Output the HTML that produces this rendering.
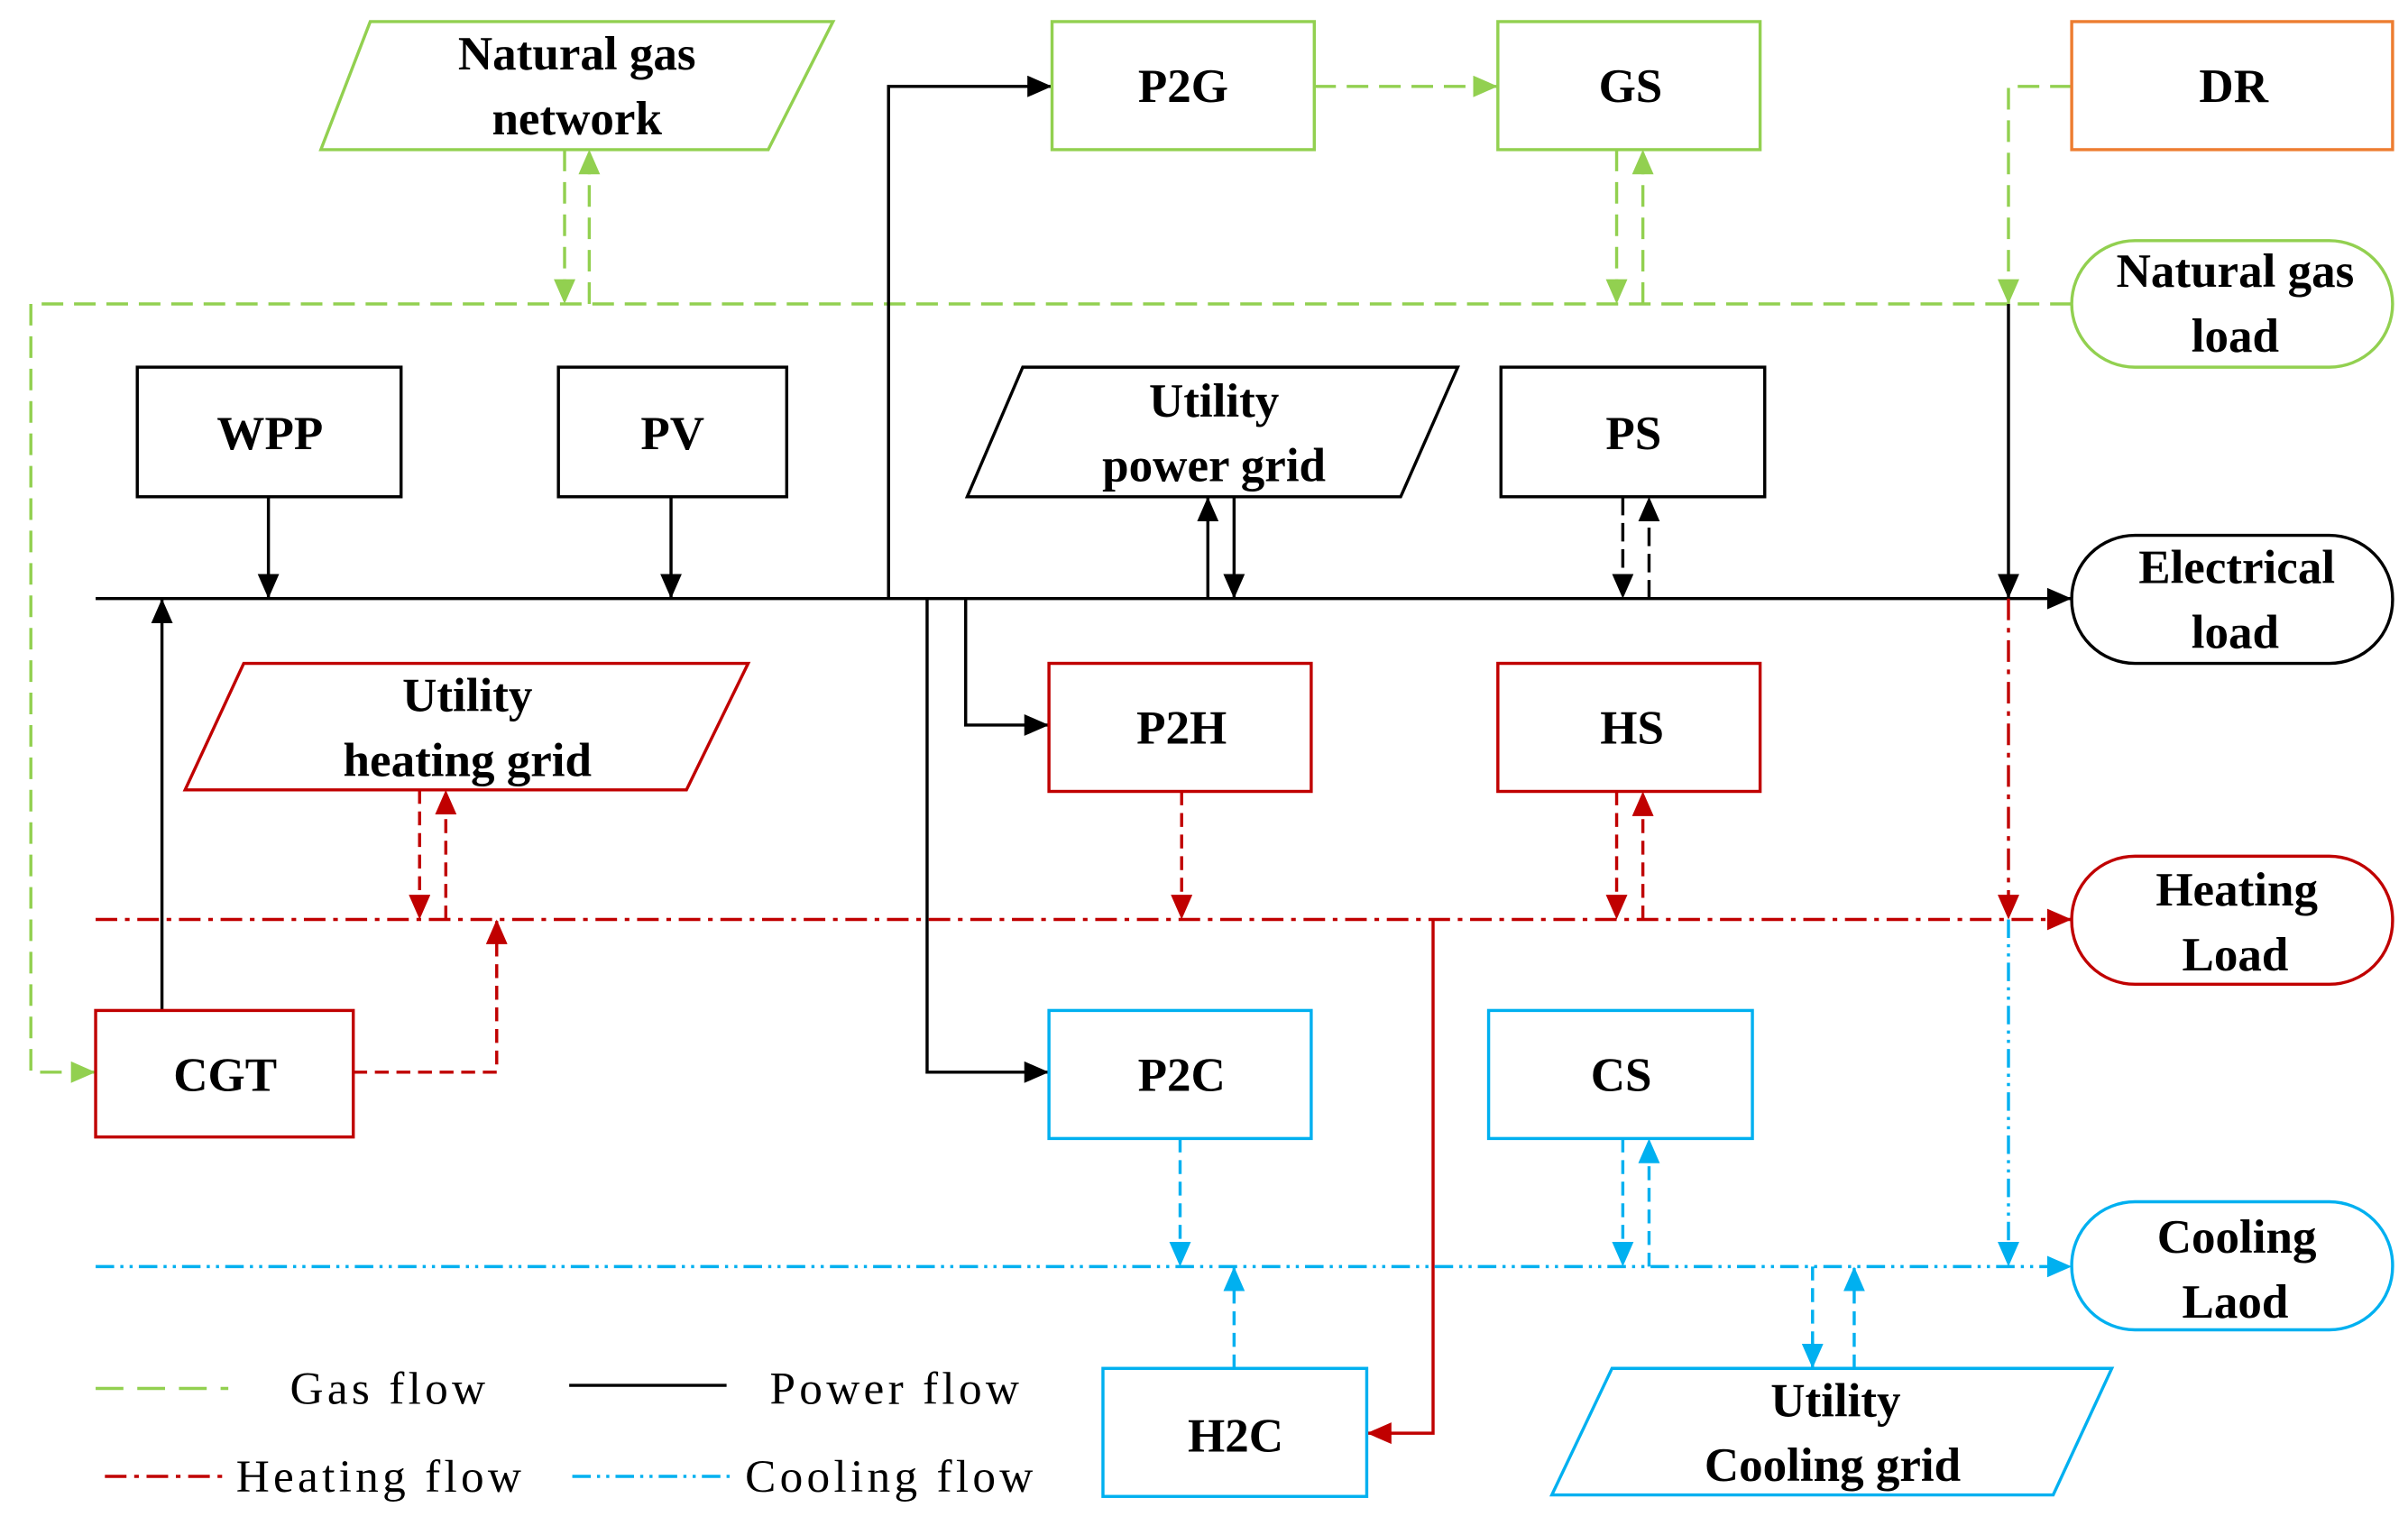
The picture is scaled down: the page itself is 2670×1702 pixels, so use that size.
<!DOCTYPE html>
<html><head><meta charset="utf-8"><style>html,body{margin:0;padding:0;background:#fff}svg{display:block}</style></head>
<body>
<svg width="2670" height="1702" viewBox="0 0 1561 995" preserveAspectRatio="none" xmlns="http://www.w3.org/2000/svg" font-family="Liberation Serif, serif">
<defs>
<marker id="ak" markerWidth="10" markerHeight="10" refX="9" refY="5" orient="auto" markerUnits="userSpaceOnUse"><path d="M0,0 L10,5 L0,10 z" fill="#000"/></marker>
<marker id="ag" markerWidth="16" markerHeight="14" refX="16" refY="7" orient="auto" markerUnits="userSpaceOnUse"><path d="M0,0 L16,7 L0,14 z" fill="#92d050"/></marker>
<marker id="ab" markerWidth="16" markerHeight="14" refX="16" refY="7" orient="auto" markerUnits="userSpaceOnUse"><path d="M0,0 L16,7 L0,14 z" fill="#000"/></marker>
<marker id="ar" markerWidth="16" markerHeight="14" refX="16" refY="7" orient="auto" markerUnits="userSpaceOnUse"><path d="M0,0 L16,7 L0,14 z" fill="#c00000"/></marker>
<marker id="ac" markerWidth="16" markerHeight="14" refX="16" refY="7" orient="auto" markerUnits="userSpaceOnUse"><path d="M0,0 L16,7 L0,14 z" fill="#00b0f0"/></marker>
</defs>
<g fill="none" stroke-width="2">
<!-- gas -->
<g stroke="#92d050" stroke-dasharray="14,7">
<path d="M1343,197 H20 V695 H62" marker-end="url(#ag)"/>
<path d="M366,97 V197" marker-end="url(#ag)"/>
<path d="M382,197 V97" marker-end="url(#ag)"/>
<path d="M1048,97 V197" marker-end="url(#ag)"/>
<path d="M1065,197 V97" marker-end="url(#ag)"/>
<path d="M1343,56 H1302 V197" marker-end="url(#ag)"/>
<path d="M852,56 H971" marker-end="url(#ag)"/>
</g>
<!-- power -->
<g stroke="#000">
<path d="M62,388 H1343" marker-end="url(#ab)"/>
<path d="M576,388 V56 H682" marker-end="url(#ab)"/>
<path d="M174,322 V388" marker-end="url(#ab)"/>
<path d="M435,322 V388" marker-end="url(#ab)"/>
<path d="M783,388 V322" marker-end="url(#ab)"/>
<path d="M800,322 V388" marker-end="url(#ab)"/>
<path d="M1052,322 V388" stroke-dasharray="12,5" marker-end="url(#ab)"/>
<path d="M1069,388 V322" stroke-dasharray="12,5" marker-end="url(#ab)"/>
<path d="M1302,197 V388" marker-end="url(#ab)"/>
<path d="M105,655 V388" marker-end="url(#ab)"/>
<path d="M626,388 V470 H680" marker-end="url(#ab)"/>
<path d="M601,388 V695 H680" marker-end="url(#ab)"/>
</g>
<!-- heat -->
<g stroke="#c00000">
<path d="M62,596 H1343" stroke-dasharray="14,5,3,5" marker-end="url(#ar)"/>
<path d="M1302,388 V596" stroke-dasharray="14,5,3,5" marker-end="url(#ar)"/>
<path d="M272,512 V596" stroke-dasharray="9,5" marker-end="url(#ar)"/>
<path d="M289,596 V512" stroke-dasharray="9,5" marker-end="url(#ar)"/>
<path d="M766,513 V596" stroke-dasharray="9,5" marker-end="url(#ar)"/>
<path d="M1048,513 V596" stroke-dasharray="9,5" marker-end="url(#ar)"/>
<path d="M1065,596 V513" stroke-dasharray="9,5" marker-end="url(#ar)"/>
<path d="M229,695 H322 V596" stroke-dasharray="9,5" marker-end="url(#ar)"/>
<path d="M929,596 V929 H886" marker-end="url(#ar)"/>
</g>
<!-- cool -->
<g stroke="#00b0f0">
<path d="M62,821 H1343" stroke-dasharray="12,4,2,4,2,4" marker-end="url(#ac)"/>
<path d="M1302,596 V821" stroke-dasharray="12,4,2,4,2,4" marker-end="url(#ac)"/>
<path d="M765,738 V821" stroke-dasharray="9,5" marker-end="url(#ac)"/>
<path d="M800,887 V821" stroke-dasharray="9,5" marker-end="url(#ac)"/>
<path d="M1052,738 V821" stroke-dasharray="9,5" marker-end="url(#ac)"/>
<path d="M1069,821 V738" stroke-dasharray="9,5" marker-end="url(#ac)"/>
<path d="M1175,821 V887" stroke-dasharray="9,5" marker-end="url(#ac)"/>
<path d="M1202,887 V821" stroke-dasharray="9,5" marker-end="url(#ac)"/>
</g>
</g>
<!-- nodes -->
<g stroke-width="2" fill="#fff">
<path d="M240,14 H540 L498,97 H208 Z" stroke="#92d050"/>
<rect x="682" y="14" width="170" height="83" stroke="#92d050"/>
<rect x="971" y="14" width="170" height="83" stroke="#92d050"/>
<rect x="1343" y="14" width="208" height="83" stroke="#ed7d31"/>
<rect x="1343" y="156" width="208" height="82" rx="41" stroke="#92d050"/>
<rect x="89" y="238" width="171" height="84" stroke="#000"/>
<rect x="362" y="238" width="148" height="84" stroke="#000"/>
<path d="M663,238 H945 L908,322 H627 Z" stroke="#000"/>
<rect x="973" y="238" width="171" height="84" stroke="#000"/>
<rect x="1343" y="347" width="208" height="83" rx="41" stroke="#000"/>
<path d="M158,430 H485 L445,512 H120 Z" stroke="#c00000"/>
<rect x="680" y="430" width="170" height="83" stroke="#c00000"/>
<rect x="971" y="430" width="170" height="83" stroke="#c00000"/>
<rect x="1343" y="555" width="208" height="83" rx="41" stroke="#c00000"/>
<rect x="62" y="655" width="167" height="82" stroke="#c00000"/>
<rect x="680" y="655" width="170" height="83" stroke="#00b0f0"/>
<rect x="965" y="655" width="171" height="83" stroke="#00b0f0"/>
<rect x="1343" y="779" width="208" height="83" rx="41" stroke="#00b0f0"/>
<rect x="715" y="887" width="171" height="83" stroke="#00b0f0"/>
<path d="M1045,887 H1369 L1331,969 H1006 Z" stroke="#00b0f0"/>
</g>
<g font-weight="bold" font-size="31" text-anchor="middle" fill="#000">
<text x="374" y="45">Natural gas</text><text x="374" y="87">network</text>
<text x="767" y="66">P2G</text>
<text x="1057" y="66">GS</text>
<text x="1448" y="66">DR</text>
<text x="1449" y="186">Natural gas</text><text x="1449" y="228">load</text>
<text x="175" y="291">WPP</text>
<text x="436" y="291">PV</text>
<text x="787" y="270">Utility</text><text x="787" y="312">power grid</text>
<text x="1059" y="291">PS</text>
<text x="1450" y="378">Electrical</text><text x="1449" y="420">load</text>
<text x="303" y="461">Utility</text><text x="303" y="503">heating grid</text>
<text x="766" y="482">P2H</text>
<text x="1058" y="482">HS</text>
<text x="1450" y="587">Heating</text><text x="1449" y="629">Load</text>
<text x="146" y="707">CGT</text>
<text x="766" y="707">P2C</text>
<text x="1051" y="707">CS</text>
<text x="1450" y="812">Cooling</text><text x="1449" y="854">Laod</text>
<text x="801" y="941">H2C</text>
<text x="1190" y="918">Utility</text><text x="1188" y="960">Cooling grid</text>
</g>
<!-- legend -->
<g fill="none" stroke-width="2">
<path d="M62,900 H148" stroke="#92d050" stroke-dasharray="18,9"/>
<path d="M369,898 H471" stroke="#000"/>
<path d="M68,957 H148" stroke="#c00000" stroke-dasharray="14,5,3,5"/>
<path d="M371,957 H474" stroke="#00b0f0" stroke-dasharray="12,4,2,4,2,4"/>
</g>
<g font-size="30" fill="#000" letter-spacing="2.5">
<text x="188" y="910">Gas flow</text>
<text x="499" y="910">Power flow</text>
<text x="153" y="967">Heating flow</text>
<text x="483" y="967">Cooling flow</text>
</g>
</svg>
</body></html>
